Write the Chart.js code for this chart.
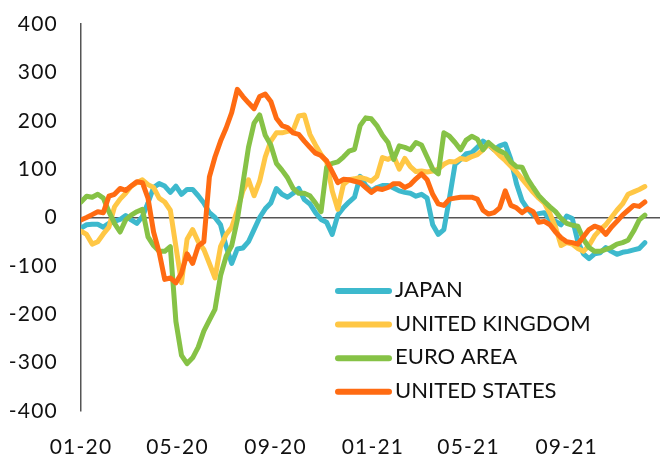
<!DOCTYPE html>
<html>
<head>
<meta charset="utf-8">
<script src="https://cdn.jsdelivr.net/npm/chart.js@4/dist/chart.umd.min.js"></script>
<style>
html,body{margin:0;padding:0;background:#ffffff;}
#wrap{width:660px;height:455px;}
</style>
</head>
<body>
<div id="wrap"><canvas id="c" width="660" height="455"></canvas></div>
<script>
// ---- Data (weekly readings, starting 2020-01-01) ----
const startDate = '2020-01-01';
const stepDays = 7;
const tickLabels = ['01-20', '05-20', '09-20', '01-21', '05-21', '09-21'];
const seriesNames = ['JAPAN', 'UNITED KINGDOM', 'EURO AREA', 'UNITED STATES'];

const japan = [
  -22,-15,-14,-14,-20,-12,-8,-4,4,-5,
  -12,2,30,62,70,65,52,65,48,58,
  58,45,30,10,0,-15,-60,-95,-65,-63,
  -50,-25,0,18,30,60,48,42,50,60,
  37,28,10,-4,-10,-35,5,20,32,42,
  85,66,55,62,66,66,61,55,52,50,
  44,48,40,-15,-35,-25,40,110,120,132,
  134,145,158,150,140,148,152,120,70,35,
  18,5,8,10,-5,-8,-15,3,-2,-50,
  -75,-85,-75,-73,-62,-70,-76,-72,-70,-67,
  -64,-52
];
const unitedKingdom = [
  -28,-35,-55,-50,-34,-20,22,38,50,65,
  72,78,68,62,40,32,15,-60,-135,-45,
  -25,-50,-66,-95,-125,-60,-35,-20,15,55,
  78,45,75,125,158,175,175,178,180,210,
  212,172,150,130,115,55,17,68,78,80,
  83,80,75,85,124,120,127,100,122,105,
  95,96,94,96,100,110,116,115,122,120,
  126,130,140,152,140,128,118,106,94,80,
  66,52,40,30,8,-20,-58,-52,-55,-64,
  -70,-58,-38,-25,-15,0,15,28,48,53,
  58,64
];
const euroArea = [
  32,44,42,48,40,12,-12,-30,-5,5,
  12,17,-40,-58,-70,-70,-60,-215,-285,-302,
  -290,-268,-235,-212,-190,-120,-80,-58,-5,70,
  145,195,212,170,150,112,98,82,60,50,
  50,45,30,12,104,112,115,125,137,141,
  190,206,204,190,170,155,120,148,145,140,
  155,150,125,100,90,175,168,155,140,160,
  168,162,140,155,145,138,132,115,105,104,
  80,62,45,33,22,12,-2,-12,-16,-18,
  -45,-62,-70,-70,-66,-62,-55,-52,-47,-28,
  -5,5
];
const unitedStates = [
  -5,0,6,12,10,44,48,60,56,65,
  74,72,40,-30,-72,-128,-125,-135,-115,-75,
  -95,-59,-50,84,125,158,185,217,265,250,
  237,225,250,255,240,205,190,186,175,172,
  158,145,133,128,117,95,72,79,78,75,
  72,62,52,60,58,62,70,70,62,68,
  80,90,78,48,28,25,38,40,42,42,
  42,38,15,7,10,20,55,25,20,10,
  18,12,-10,-8,-15,-30,-42,-50,-52,-55,
  -40,-25,-18,-22,-35,-20,-8,5,15,25,
  23,32
];

// ---- helpers ----
const DAY = 86400000;
const t0 = Date.parse(startDate + 'T00:00:00Z');
function dayFromLabel(lbl) {
  const [mm, yy] = lbl.split('-').map(Number);
  return (Date.UTC(2000 + yy, mm - 1, 1) - t0) / DAY;
}
function toPoints(arr) {
  return arr.map((v, i) => ({ x: i * stepDays, y: v }));
}

const colors = {
  'JAPAN': '#3DB9CD',
  'UNITED KINGDOM': '#FFC745',
  'EURO AREA': '#86C246',
  'UNITED STATES': '#FF6B12'
};
const seriesData = [japan, unitedKingdom, euroArea, unitedStates];
const drawOrder = [3, 2, 1, 0]; // lower = on top

const datasets = seriesNames.map((name, i) => ({
  label: name,
  data: toPoints(seriesData[i]),
  borderColor: colors[name],
  backgroundColor: colors[name],
  borderWidth: 5,
  pointRadius: 0,
  tension: 0,
  borderJoinStyle: 'round',
  borderCapStyle: 'round',
  fill: false,
  order: drawOrder[i]
}));

// slight letter spacing for axis labels, like the original
const spacing = {
  id: 'spacing',
  beforeDraw(chart) { chart.ctx.letterSpacing = '1.2px'; },
  afterDraw(chart) { chart.ctx.letterSpacing = '0px'; }
};

const insideLegend = {
  id: 'insideLegend',
  afterDraw(chart, args, opts) {
    const ctx = chart.ctx;
    ctx.save();
    ctx.letterSpacing = '0px';
    ctx.font = opts.font;
    ctx.textBaseline = 'middle';
    ctx.textAlign = 'left';
    seriesNames.forEach((name, i) => {
      const ds = chart.data.datasets.find(d => d.label === name);
      const y = opts.y + i * opts.rowGap;
      ctx.strokeStyle = ds.borderColor;
      ctx.lineWidth = opts.lineWidth;
      ctx.lineCap = 'round';
      ctx.beginPath();
      ctx.moveTo(opts.x, y);
      ctx.lineTo(opts.x + opts.lineLen, y);
      ctx.stroke();
      ctx.fillStyle = opts.color;
      ctx.fillText(name, opts.x + opts.lineLen + opts.gap, y - 1);
    });
    ctx.restore();
  }
};

const tickFont = { family: 'Lato', size: 21 };

new Chart(document.getElementById('c'), {
  type: 'line',
  data: { datasets },
  plugins: [spacing, insideLegend],
  options: {
    responsive: false,
    animation: false,
    layout: { padding: { top: 24, right: 0, bottom: 0, left: 0 } },
    plugins: {
      legend: { display: false },
      tooltip: { enabled: false },
      insideLegend: {
        x: 338, y: 291, rowGap: 33.6, lineLen: 51, lineWidth: 6, gap: 6,
        font: '22px Lato', color: '#111111'
      }
    },
    scales: {
      x: {
        type: 'linear',
        min: 0,
        max: 726,
        afterBuildTicks: (scale) => {
          scale.ticks = tickLabels.map(l => ({ value: dayFromLabel(l) }));
        },
        afterFit: (scale) => { scale.height = 44; },
        ticks: {
          autoSkip: false,
          maxRotation: 0,
          padding: 24,
          font: tickFont,
          color: '#111111',
          callback: (v, i) => tickLabels[i]
        },
        grid: { display: false, drawTicks: false },
        border: { display: false }
      },
      y: {
        min: -400,
        max: 400,
        afterFit: (scale) => {
          scale.width = 81;
          scale.paddingTop = 12;
          scale.paddingBottom = 12;
        },
        ticks: {
          stepSize: 100,
          padding: 23,
          font: tickFont,
          color: '#111111'
        },
        grid: {
          drawTicks: false,
          lineWidth: 1.5,
          color: (c) => (c.tick && c.tick.value === 0) ? '#555555' : 'rgba(0,0,0,0)'
        },
        border: { display: true, color: '#555555', width: 1.5 }
      }
    }
  }
});
</script>
</body>
</html>
